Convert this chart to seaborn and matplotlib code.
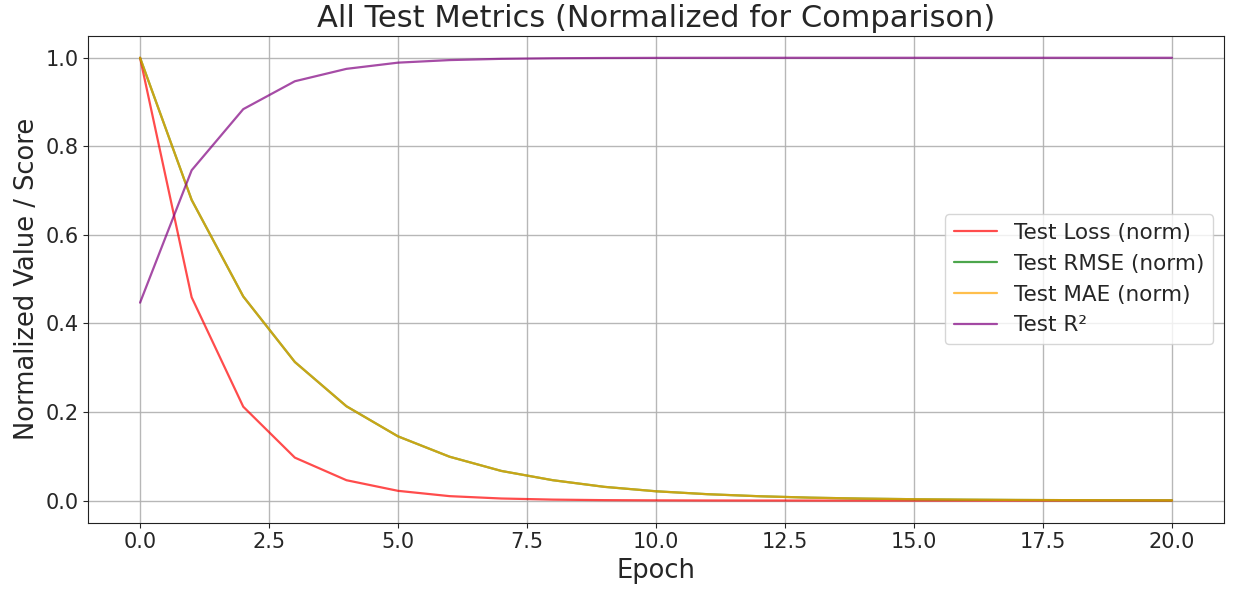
import matplotlib
matplotlib.use("Agg")
import matplotlib.pyplot as plt
import seaborn as sns
import pandas as pd

epochs = list(range(21))
test_loss = [1.0, 0.459, 0.212, 0.097, 0.046, 0.022, 0.010, 0.0047, 0.0022, 0.0010,
             0.0005, 0.0002, 0.0001, 0.00005, 0.00002, 0.00001, 0.0, 0.0, 0.0, 0.0, 0.0]
test_rmse = [1.0, 0.679, 0.461, 0.313, 0.213, 0.145, 0.099, 0.067, 0.046, 0.031,
             0.021, 0.0144, 0.0098, 0.0066, 0.0045, 0.0031, 0.0021, 0.0014, 0.0010, 0.0007, 0.0005]
test_mae = [1.0, 0.679, 0.461, 0.313, 0.213, 0.145, 0.099, 0.067, 0.046, 0.031,
            0.021, 0.0144, 0.0098, 0.0066, 0.0045, 0.0031, 0.0021, 0.0014, 0.0010, 0.0007, 0.0005]
test_r2 = [0.447, 0.746, 0.884, 0.947, 0.975, 0.989, 0.9948, 0.9976, 0.9989, 0.9995,
           0.9998, 0.9999, 1.0, 1.0, 1.0, 1.0, 1.0, 1.0, 1.0, 1.0, 1.0]

labels = ["Test Loss (norm)", "Test RMSE (norm)", "Test MAE (norm)", "Test R²"]
colors = ["red", "green", "orange", "purple"]
series = [test_loss, test_rmse, test_mae, test_r2]

sns.set_style("ticks")
plt.rcParams['font.family'] = ['DejaVu Sans']

fig, ax = plt.subplots(figsize=(12.46, 5.94), dpi=100)
fig.subplots_adjust(left=0.071, right=0.982, top=0.94, bottom=0.12)

for lab, col, vals in zip(labels, colors, series):
    df = pd.DataFrame({"Epoch": epochs, "v": vals})
    sns.lineplot(data=df, x="Epoch", y="v", ax=ax, color=col, alpha=0.7,
                 linewidth=1.6, label=lab)

ax.set_title("All Test Metrics (Normalized for Comparison)", fontsize=22)
ax.set_xlabel("Epoch", fontsize=18.5)
ax.set_ylabel("Normalized Value / Score", fontsize=18.5)
ax.tick_params(labelsize=15)
ax.grid(True, color="#b0b0b0", linewidth=1.0, alpha=0.9)
ax.set_xlim(-1.0, 21.0)
ax.set_ylim(-0.05, 1.05)
for s in ax.spines.values():
    s.set_color("#222222")
ax.legend(loc="center right", fontsize=15.5)

fig.savefig("out.png", dpi=100)
